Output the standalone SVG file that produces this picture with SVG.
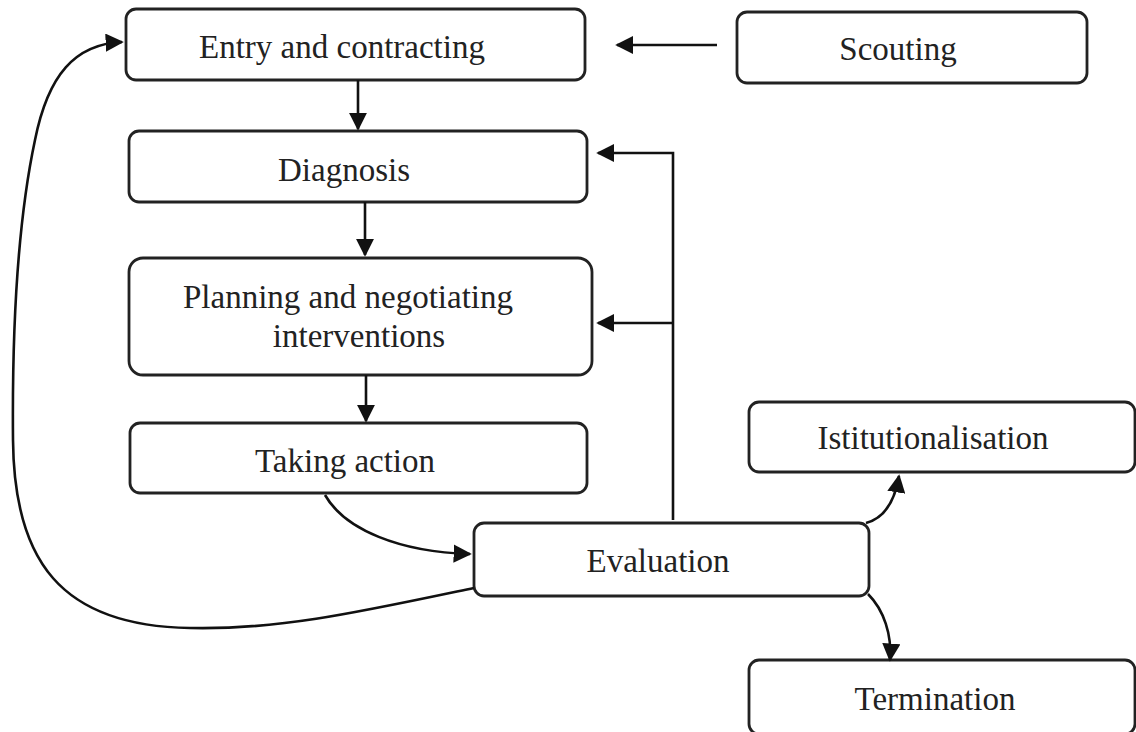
<svg xmlns="http://www.w3.org/2000/svg" width="1136" height="732" viewBox="0 0 1136 732">
<style>
.box{fill:#fff;stroke:#222;stroke-width:2.8}
.lbl{font-family:"Liberation Serif","Times New Roman",serif;font-size:33px;fill:#222;text-anchor:middle}
.conn{fill:none;stroke:#111;stroke-width:2.6}
</style>
<defs>
<marker id="ah" viewBox="0 0 10 10" refX="9" refY="5" markerWidth="7" markerHeight="7" markerUnits="strokeWidth" orient="auto">
<path d="M0,0 L10,5 L0,10 z" fill="#111"/>
</marker>
</defs>
<rect width="1136" height="732" fill="#fff"/>
<g id="entry"><rect class="box" x="126" y="9" width="459" height="71" rx="10"/><text class="lbl" x="342" y="58">Entry and contracting</text></g>
<g id="scouting"><rect class="box" x="737" y="12" width="350" height="71" rx="10"/><text class="lbl" x="898" y="60">Scouting</text></g>
<g id="diagnosis"><rect class="box" x="129" y="131" width="458" height="71" rx="10"/><text class="lbl" x="344" y="181">Diagnosis</text></g>
<g id="planning"><rect class="box" x="129" y="258" width="463" height="117" rx="14"/><text class="lbl" x="348" y="308">Planning and negotiating</text><text class="lbl" x="359" y="347">interventions</text></g>
<g id="taking"><rect class="box" x="130" y="423" width="457" height="70" rx="10"/><text class="lbl" x="345" y="472">Taking action</text></g>
<g id="evaluation"><rect class="box" x="474" y="523" width="395" height="73" rx="10"/><text class="lbl" x="658" y="572">Evaluation</text></g>
<g id="institutionalisation"><rect class="box" x="749" y="402" width="386" height="70" rx="10"/><text class="lbl" x="933" y="449">Istitutionalisation</text></g>
<g id="termination"><rect class="box" x="749" y="660" width="386" height="74" rx="10"/><text class="lbl" x="935" y="710">Termination</text></g>
<g id="connectors">
<path class="conn" d="M717 45 H617" marker-end="url(#ah)"/>
<path class="conn" d="M358 80 V129" marker-end="url(#ah)"/>
<path class="conn" d="M365 202 V255" marker-end="url(#ah)"/>
<path class="conn" d="M366 375 V421" marker-end="url(#ah)"/>
<path class="conn" d="M673 520 V153 H598" marker-end="url(#ah)"/>
<path class="conn" d="M673 323 H598" marker-end="url(#ah)"/>
<path class="conn" d="M325 495 C345 530, 400 552, 470 554" marker-end="url(#ah)"/>
<path class="conn" d="M474 588 C360 612, 280 630, 190 628 C60 626, 14 560, 13 440 C12 330, 18 220, 35 140 C48 75, 75 44, 122 42" marker-end="url(#ah)"/>
<path class="conn" d="M866 523 C885 518, 895 500, 899 476" marker-end="url(#ah)"/>
<path class="conn" d="M868 594 C884 610, 892 635, 890 660" marker-end="url(#ah)"/>
</g>
</svg>
